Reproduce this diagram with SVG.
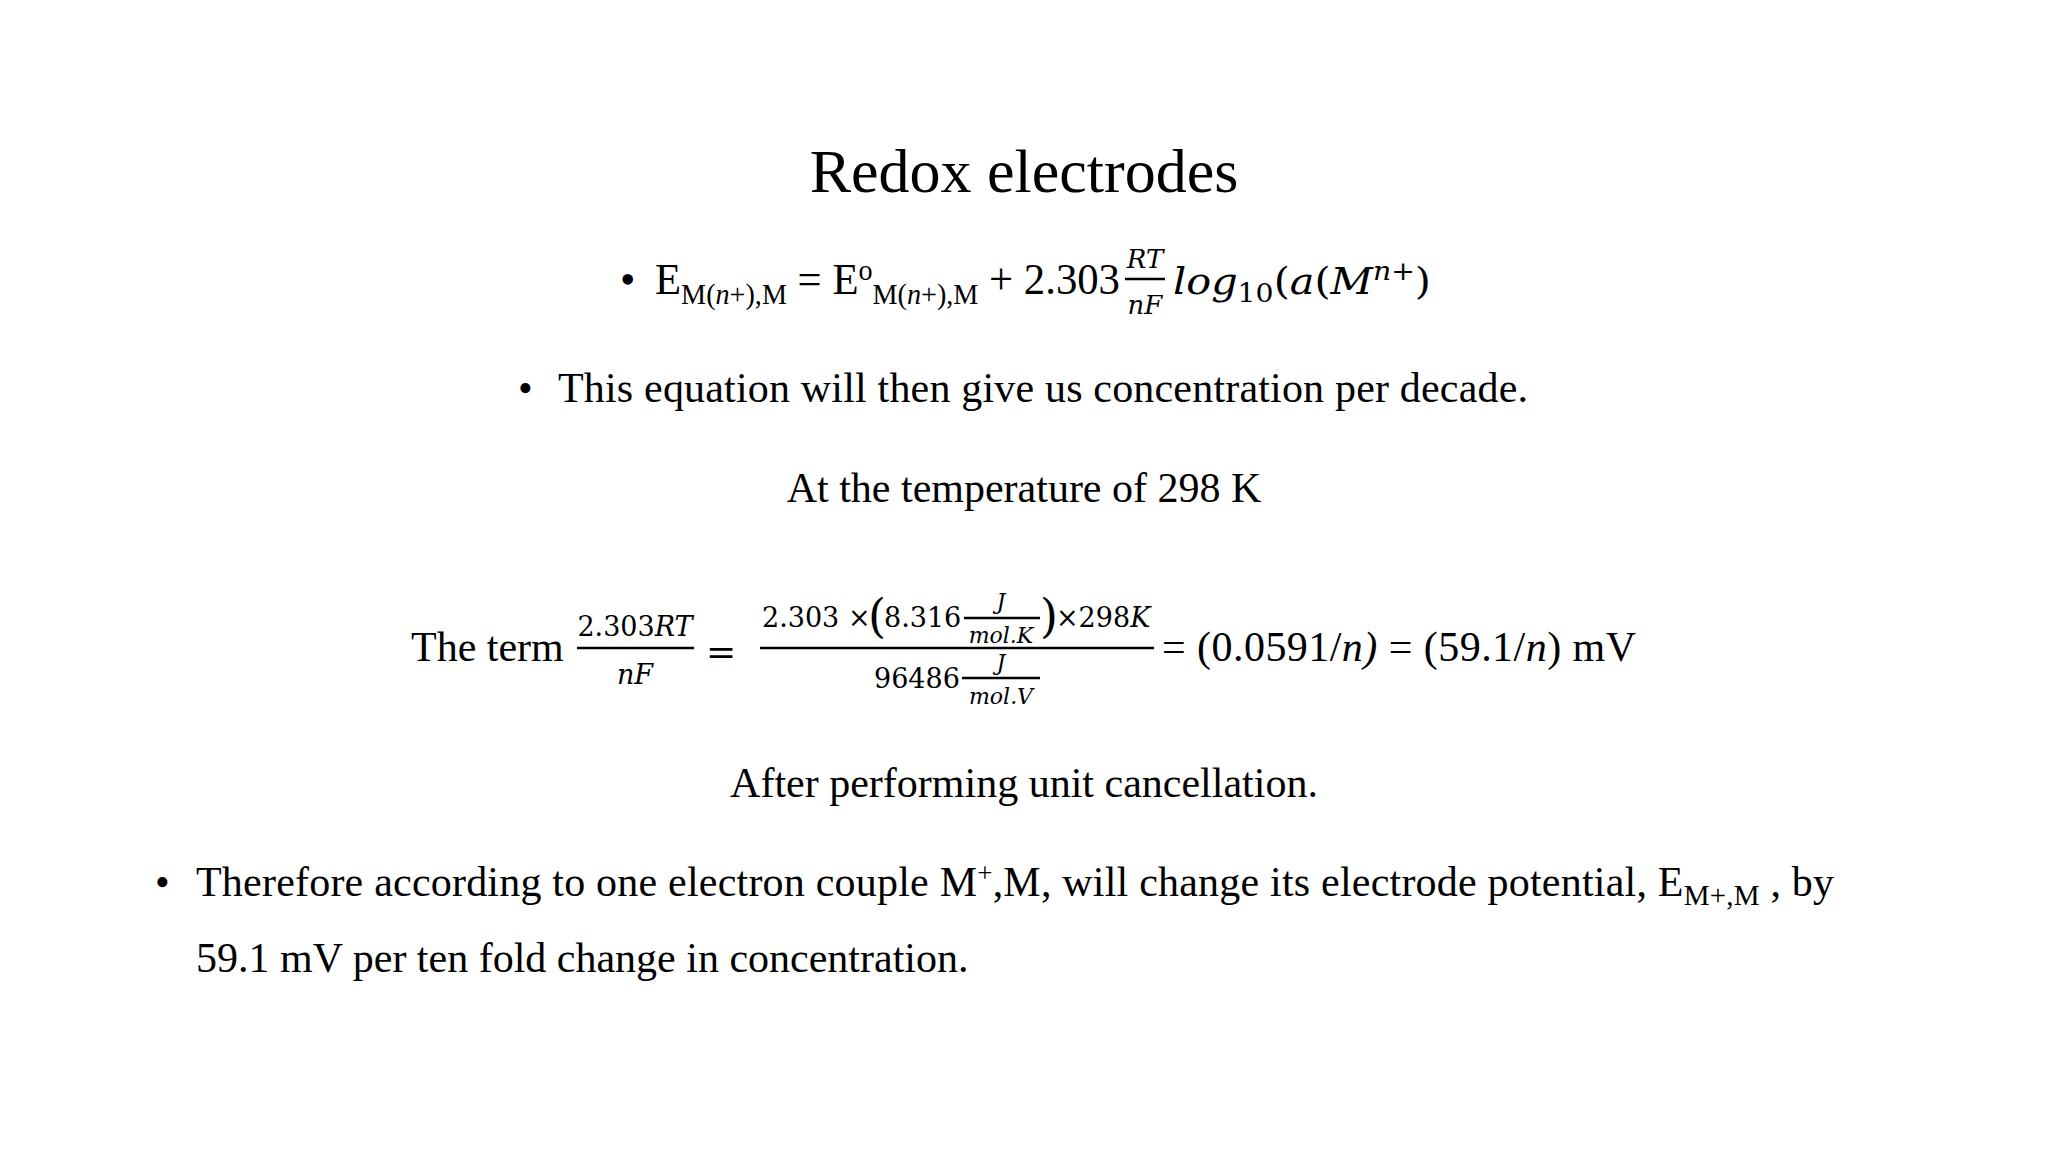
<svg xmlns="http://www.w3.org/2000/svg" width="2048" height="1152" viewBox="0 0 2048 1152">
<style>
.t{font-family:"Liberation Serif",serif;fill:#000}
.m{font-family:"DejaVu Serif","Liberation Serif",serif;font-style:italic;fill:#000}
.n{font-family:"DejaVu Serif","Liberation Serif",serif;fill:#000}
line{stroke:#000;stroke-width:2.5}
</style>
<rect width="2048" height="1152" fill="#fff"/>
<g id="title"><text class="t" x="1024" y="192" font-size="62" text-anchor="middle">Redox electrodes</text></g>
<g id="eq1">
<text class="t" x="620" y="294" font-size="44">•</text>
<text class="t" x="655" y="294" font-size="44" textLength="465" lengthAdjust="spacingAndGlyphs">E<tspan font-size="29" dy="10">M(<tspan font-style="italic">n</tspan>+),M</tspan><tspan dy="-10"> = E</tspan><tspan font-size="29" dy="-14">o</tspan><tspan font-size="29" dy="24">M(<tspan font-style="italic">n</tspan>+),M</tspan><tspan dy="-10"> + 2.303</tspan></text>
<text class="m" x="1145" y="268" font-size="26" text-anchor="middle">RT</text>
<line x1="1125" y1="279" x2="1165" y2="279"/>
<text class="m" x="1145" y="314" font-size="26" text-anchor="middle">nF</text>
<text class="m" x="1173" y="294" font-size="38" textLength="258" lengthAdjust="spacingAndGlyphs">log<tspan font-size="26" dy="8" font-style="normal">10</tspan><tspan dy="-8" font-style="normal">(</tspan>a<tspan font-style="normal">(</tspan>M<tspan font-size="26" dy="-14">n+</tspan><tspan dy="14" font-style="normal">)</tspan></text>
</g>
<g id="line2"><text class="t" x="518" y="402" font-size="42">•</text><text class="t" x="558" y="402" font-size="42" textLength="970">This equation will then give us concentration per decade.</text></g>
<g id="line3"><text class="t" x="1024" y="502" font-size="42" text-anchor="middle">At the temperature of 298 K</text></g>
<g id="term">
<text class="t" x="411" y="661" font-size="42">The term</text>
<text class="n" x="635" y="636" font-size="27" text-anchor="middle">2.303<tspan font-style="italic">RT</tspan></text>
<line x1="577" y1="648" x2="694" y2="648"/>
<text class="m" x="635" y="684" font-size="27" text-anchor="middle">nF</text>
<text class="n" x="721" y="664" font-size="36" text-anchor="middle">=</text>
<text class="n" x="762" y="627" font-size="27">2.303 ×</text>
<text class="n" x="868" y="632" font-size="46">(</text>
<text class="n" x="884" y="627" font-size="27">8.316</text>
<text class="m" x="1001" y="609" font-size="22" text-anchor="middle">J</text>
<line x1="964" y1="618" x2="1040" y2="618"/>
<text class="m" x="1001" y="643" font-size="22" text-anchor="middle">mol.K</text>
<text class="n" x="1040" y="632" font-size="46">)</text>
<text class="n" x="1056" y="627" font-size="27">×298<tspan font-style="italic">K</tspan></text>
<line x1="760" y1="648" x2="1154" y2="648"/>
<text class="n" x="874" y="688" font-size="27">96486</text>
<text class="m" x="1001" y="670" font-size="22" text-anchor="middle">J</text>
<line x1="962" y1="678" x2="1040" y2="678"/>
<text class="m" x="1001" y="704" font-size="22" text-anchor="middle">mol.V</text>
<text class="t" x="1162" y="661" font-size="42" textLength="474">= (0.0591/<tspan font-style="italic">n)</tspan> = (59.1/<tspan font-style="italic">n</tspan>) mV</text>
</g>
<g id="line5"><text class="t" x="1024" y="797" font-size="42" text-anchor="middle">After performing unit cancellation.</text></g>
<g id="line6">
<text class="t" x="155" y="896" font-size="42">•</text>
<text class="t" x="196" y="896" font-size="42" textLength="1638">Therefore according to one electron couple M<tspan font-size="27" dy="-14">+</tspan><tspan dy="14">,M, will change its electrode potential, E</tspan><tspan font-size="29" dy="9">M+,M</tspan><tspan dy="-9"> , by</tspan></text>
<text class="t" x="196" y="972" font-size="42">59.1 mV per ten fold change in concentration.</text>
</g>
</svg>
